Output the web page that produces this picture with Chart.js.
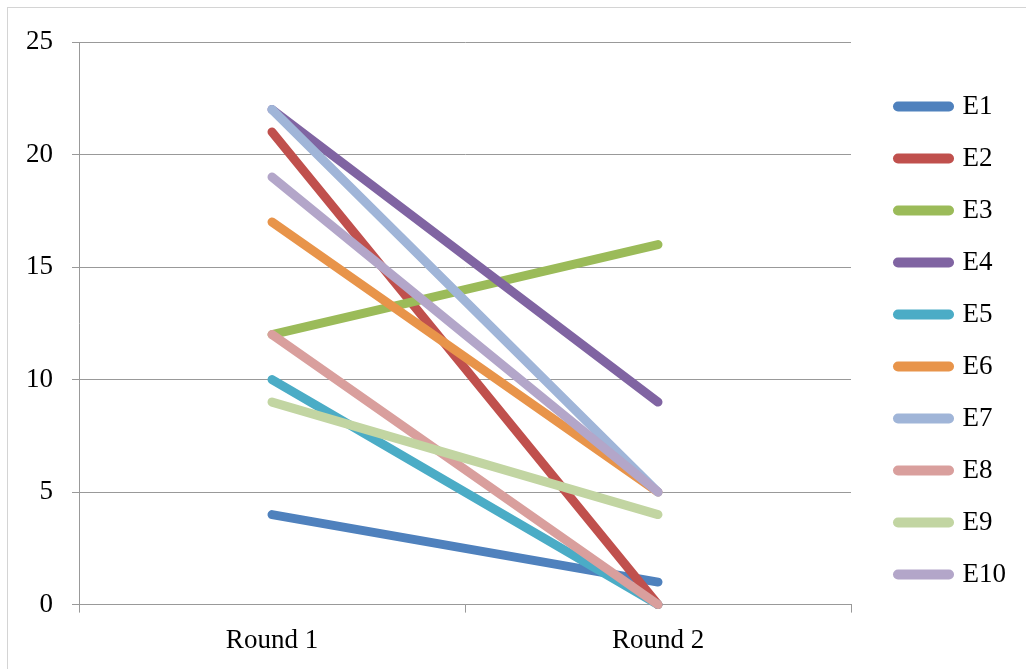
<!DOCTYPE html>
<html>
<head>
<meta charset="utf-8">
<script src="https://cdn.jsdelivr.net/npm/chart.js@4/dist/chart.umd.min.js"></script>
<style>
    html, body { margin: 0; padding: 0; background: #fff; overflow: hidden; }
    #frame { position: absolute; left: 7px; top: 7px; width: 1040px; height: 680px; border: 1px solid #d4d4d4; }
    #wrap { position: absolute; left: 0; top: 0; width: 1026px; height: 669px; }
</style>
</head>
<body>
<div id="frame"></div>
<div id="wrap"><canvas id="grafico"></canvas></div>
<script>
// rodadas
const rounds = ['Round 1', 'Round 2'];
const seriesNames = ['E1', 'E2', 'E3', 'E4', 'E5', 'E6', 'E7', 'E8', 'E9', 'E10'];

// valores por série (Round 1, Round 2)
const e1 = [4, 1];
const e2 = [21, 0];
const e3 = [12, 16];
const e4 = [22, 9];
const e5 = [10, 0];
const e6 = [17, 5];
const e7 = [22, 5];
const e8 = [12, 0];
const e9 = [9, 4];
const e10 = [19, 5];

const yTicks = [0, 5, 10, 15, 20, 25];

const colors = ['#4f81bd', '#c0504d', '#9bbb59', '#8064a2', '#4bacc6',
                '#e8944a', '#a0b5d8', '#d99f9d', '#c2d5a2', '#b3a6c9'];

const values = [e1, e2, e3, e4, e5, e6, e7, e8, e9, e10];

// a última série fica por cima, como no original
const datasets = seriesNames.map((name, i) => ({
    label: name,
    data: values[i],
    borderColor: colors[i],
    backgroundColor: colors[i],
    borderWidth: 9,
    borderCapStyle: 'round',
    borderJoinStyle: 'round',
    pointRadius: 0,
    pointHoverRadius: 0,
    tension: 0,
    clip: false,
    order: seriesNames.length - i
}));

const serif = "'Liberation Serif', serif";
const gridColor = '#999999';

// empurra a legenda um pouco para a direita/cima
const legendShift = {
    id: 'legendShift',
    afterLayout(chart) {
        const lg = chart.legend;
        if (!lg) return;
        lg.left += 22; lg.right += 22;
        lg.top -= 15; lg.bottom -= 15;
    }
};

new Chart(document.getElementById('grafico'), {
    type: 'line',
    data: { labels: rounds, datasets: datasets },
    plugins: [legendShift],
    options: {
        responsive: true,
        maintainAspectRatio: false,
        animation: false,
        layout: { padding: { left: 7, right: 32, top: 42, bottom: 0 } },
        plugins: {
            tooltip: { enabled: false },
            legend: {
                position: 'right',
                labels: {
                    usePointStyle: true,
                    pointStyle: 'line',
                    pointStyleWidth: 51,
                    boxHeight: 8,
                    padding: 25,
                    color: '#000',
                    font: { family: serif, size: 27 },
                    sort: (a, b) => a.datasetIndex - b.datasetIndex,
                    generateLabels: (chart) =>
                        Chart.defaults.plugins.legend.labels.generateLabels(chart)
                            .map(item => Object.assign(item, { lineCap: 'round', lineWidth: 10 }))
                }
            }
        },
        scales: {
            x: {
                offset: true,
                grid: { offset: true, drawOnChartArea: false, color: gridColor, tickLength: 8 },
                border: { color: gridColor },
                ticks: { color: '#000', padding: 12, font: { family: serif, size: 27 } }
            },
            y: {
                min: 0,
                max: 25,
                afterBuildTicks: (axis) => { axis.ticks = yTicks.map(v => ({ value: v })); },
                grid: { color: gridColor, tickLength: 7 },
                border: { color: gridColor },
                ticks: { color: '#000', padding: 19, font: { family: serif, size: 27 } }
            }
        }
    }
});
</script>
</body>
</html>
